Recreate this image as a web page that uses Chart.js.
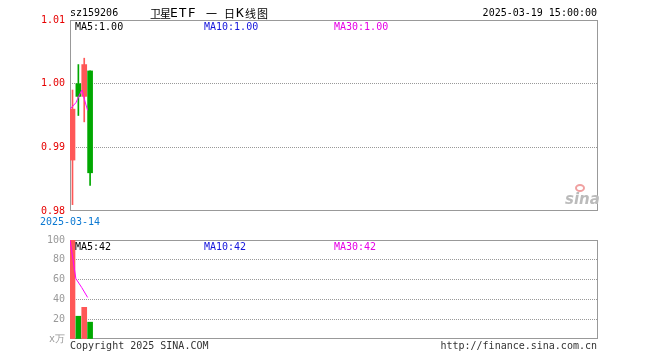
<!DOCTYPE html>
<html lang="zh">
<head>
<meta charset="UTF-8">
<title>卫星ETF 日K线图</title>
<style>
  body { margin: 0; background: #fff; width: 660px; height: 360px; position: relative; overflow: hidden;
         font-family: "DejaVu Sans Mono", "Liberation Mono", monospace; font-size: 10px; }
  canvas { position: absolute; left: 0; }
  #kChart { top: 0; }
  #volChart { top: 229px; }
  .txt { position: absolute; white-space: nowrap; line-height: 12px; }
  .cjk { position: absolute; top: 6px; font-family: "Noto Sans CJK SC", sans-serif; font-size: 11px; line-height: 14px; color: #000; }
  .tl { position: absolute; top: 6px; font-size: 13px; line-height: 14px; letter-spacing: 1px; color: #000; }
  .sina { position: absolute; left: 565px; top: 190px; color: #bbb; font: italic bold 15px "DejaVu Sans", sans-serif; }
  .eye { position: absolute; left: 575px; top: 184px; width: 10px; height: 8px; border-radius: 50%;
         border: 2px solid #f0a0a0; box-sizing: border-box; }
</style>
</head>
<body>
<canvas id="kChart" width="660" height="232"></canvas>
<canvas id="volChart" width="660" height="128"></canvas>

<div class="txt" style="left:70px;top:7px;color:#000">sz159206</div>
<div class="cjk" style="left:150px;letter-spacing:-1px">卫星</div>
<div class="tl" style="left:170px">ETF</div>
<div class="cjk" style="left:206px">一</div>
<div class="cjk" style="left:224px">日</div>
<div class="tl" style="left:236px">K</div>
<div class="cjk" style="left:245px;letter-spacing:1px">线图</div>
<div class="txt" style="right:63px;top:7px;color:#000">2025-03-19 15:00:00</div>

<div class="txt" style="left:75px;top:21px;color:#000">MA5:1.00</div>
<div class="txt" style="left:204px;top:21px;color:#1414dc">MA10:1.00</div>
<div class="txt" style="left:334px;top:21px;color:#e600e6">MA30:1.00</div>

<div class="txt" style="left:75px;top:241px;color:#000">MA5:42</div>
<div class="txt" style="left:204px;top:241px;color:#1414dc">MA10:42</div>
<div class="txt" style="left:334px;top:241px;color:#e600e6">MA30:42</div>

<div class="txt" style="left:70px;top:340px;color:#333">Copyright 2025 SINA.COM</div>
<div class="txt" style="right:63px;top:340px;color:#333">http://finance.sina.com.cn</div>

<div class="eye"></div>
<div class="sina">sina</div>

<script src="https://cdn.jsdelivr.net/npm/chart.js"></script>
<script>
// daily K data (4 trading days shown)
const dates = ['2025-03-14', '2025-03-17', '2025-03-18', '2025-03-19'];
const openP  = [0.988, 1.000, 0.998, 1.002];
const closeP = [0.996, 0.998, 1.003, 0.986];
const highP  = [0.999, 1.003, 1.004, 1.002];
const lowP   = [0.981, 0.995, 0.994, 0.984];
const ma5P   = [0.996, 0.997, 0.999, 0.9958];

// volume in 万
const volumes = [100, 23, 32, 17];
const ma5V    = [100, 61, 52, 42];

const priceTicks = [0.98, 0.99, 1.00, 1.01];
const volTicks   = [0, 20, 40, 60, 80, 100];

const SLOTS = 90;          // days the x axis can hold
const BODY_SHIFT = 0.426;  // candle centre inside its slot

const RED = '#ff5757';
const GREEN = '#00a800';
const MAGENTA = '#ff00ff';

const upColor = (i) => closeP[i] >= openP[i] ? RED : GREEN;

// gray frame drawn under the marks
const framePlugin = {
  id: 'frame',
  beforeDatasetsDraw(chart) {
    const a = chart.chartArea;
    const c = chart.ctx;
    c.save();
    c.strokeStyle = '#999';
    c.lineWidth = 1;
    c.strokeRect(a.left + 0.5, a.top + 0.5, a.right - a.left - 1, a.bottom - a.top - 1);
    c.restore();
  }
};

function dottedGrid(ticks) {
  return {
    color: (ctx) => {
      const v = ctx.tick ? ctx.tick.value : null;
      return (v === ticks[0] || v === ticks[ticks.length - 1]) ? 'rgba(0,0,0,0)' : '#999';
    },
    drawTicks: false,
    lineWidth: 1
  };
}

const monoFont = { family: '"DejaVu Sans Mono", monospace', size: 10 };

new Chart(document.getElementById('kChart'), {
  type: 'bar',
  data: {
    datasets: [
      {
        type: 'line',
        data: ma5P.map((v, i) => ({ x: i, y: v })),
        borderColor: MAGENTA,
        borderWidth: 1,
        pointRadius: 0,
        tension: 0,
        order: 0
      },
      {
        data: dates.map((d, i) => ({ x: i + BODY_SHIFT, y: [openP[i], closeP[i]] })),
        backgroundColor: dates.map((d, i) => upColor(i)),
        barThickness: 5,
        grouped: false,
        order: 1
      },
      {
        data: dates.map((d, i) => ({ x: i + BODY_SHIFT, y: [lowP[i], highP[i]] })),
        backgroundColor: dates.map((d, i) => upColor(i)),
        barThickness: 1,
        grouped: false,
        order: 2
      }
    ]
  },
  options: {
    responsive: false,
    animation: false,
    layout: { padding: { left: 0, right: 62, top: 20, bottom: 0 } },
    plugins: { legend: { display: false }, tooltip: { enabled: false } },
    scales: {
      x: {
        type: 'linear',
        min: 0,
        max: SLOTS,
        offset: false,
        grid: { display: false, drawTicks: false },
        border: { display: false },
        afterBuildTicks: (s) => { s.ticks = [{ value: 0 }]; },
        afterFit: (s) => { s.height = 21; },
        ticks: {
          maxRotation: 0,
          autoSkip: false,
          padding: 5,
          color: '#0a78d2',
          font: monoFont,
          callback: () => dates[0]
        }
      },
      y: {
        min: priceTicks[0],
        max: priceTicks[priceTicks.length - 1],
        grid: dottedGrid(priceTicks),
        border: { display: false, dash: [1, 1] },
        afterBuildTicks: (s) => { s.ticks = priceTicks.map(v => ({ value: v })); },
        afterFit: (s) => { s.width = 70; },
        ticks: {
          padding: 5,
          color: '#e60000',
          font: monoFont,
          callback: (v) => Number(v).toFixed(2)
        }
      }
    }
  },
  plugins: [framePlugin]
});

new Chart(document.getElementById('volChart'), {
  type: 'bar',
  data: {
    datasets: [
      {
        type: 'line',
        data: ma5V.map((v, i) => ({ x: i, y: v })),
        borderColor: MAGENTA,
        borderWidth: 1,
        pointRadius: 0,
        tension: 0,
        order: 0
      },
      {
        data: volumes.map((v, i) => ({ x: i + BODY_SHIFT, y: v })),
        backgroundColor: volumes.map((v, i) => upColor(i)),
        barThickness: 5,
        grouped: false,
        order: 1
      }
    ]
  },
  options: {
    responsive: false,
    animation: false,
    layout: { padding: { left: 0, right: 62, top: 0, bottom: 18 } },
    plugins: { legend: { display: false }, tooltip: { enabled: false } },
    scales: {
      x: {
        type: 'linear',
        min: 0,
        max: SLOTS,
        offset: false,
        display: false
      },
      y: {
        min: volTicks[0],
        max: volTicks[volTicks.length - 1],
        grid: dottedGrid(volTicks),
        border: { display: false, dash: [1, 1] },
        afterBuildTicks: (s) => { s.ticks = volTicks.map(v => ({ value: v })); },
        afterFit: (s) => { s.width = 70; },
        ticks: {
          padding: 5,
          color: '#999',
          font: monoFont,
          callback: (v) => v === 0 ? 'x万' : String(v)
        }
      }
    }
  },
  plugins: [framePlugin]
});
</script>
</body>
</html>
